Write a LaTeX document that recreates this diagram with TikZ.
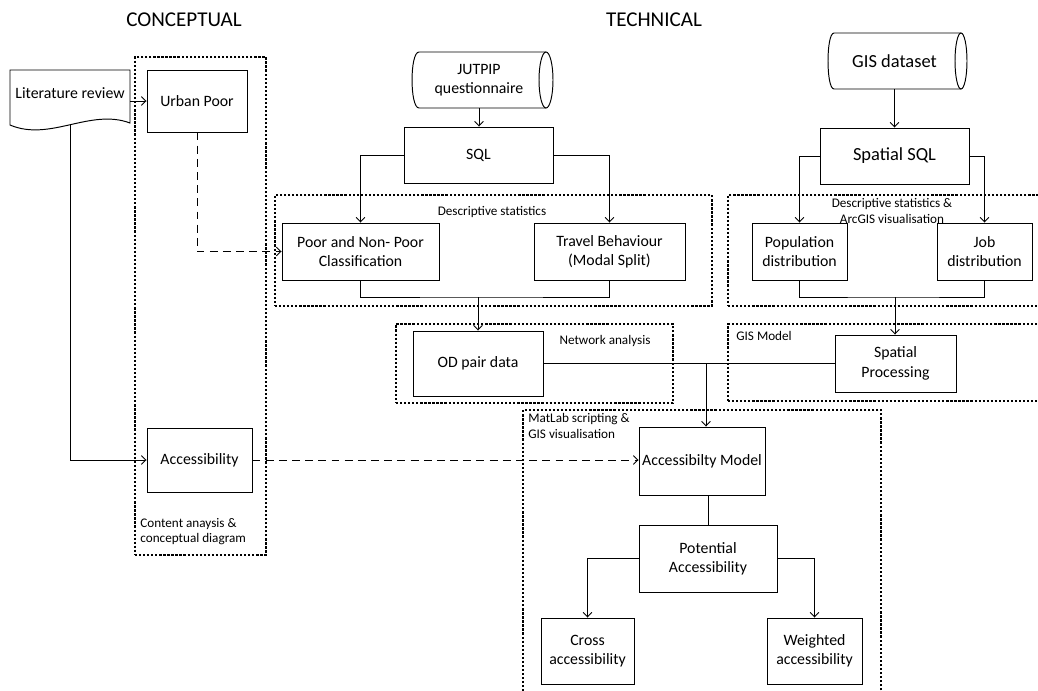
\documentclass[tikz,border=0pt]{standalone}
\usepackage{fontspec}
\setmainfont{Carlito}
\usetikzlibrary{fit,arrows.meta}
\newcommand\fbody{\fontsize{9}{11}\selectfont}
\newcommand\fbig{\fontsize{10.5}{12.5}\selectfont}
\newcommand\fsmall{\fontsize{7.5}{8.6}\selectfont}
\newcommand\fhead{\fontsize{12}{14}\selectfont}
\begin{document}
\begin{tikzpicture}[x=0.02cm,y=-0.02cm,
  sz/.style 2 args={minimum width=#1*0.02cm,minimum height=#2*0.02cm},
  box/.style={draw,line width=0.55pt,inner sep=0pt,align=center,font=\fbody},
  plain/.style={inner sep=0pt,align=center,font=\fbody},
  outline/.style={line width=0.55pt},
  link/.style={line width=0.5pt},
  arr/.style={link,-{Straight Barb[length=2.6pt,width=5pt,line width=0.5pt]}},
  dlink/.style={arr,dash pattern=on 4.5pt off 3pt},
  zone/.style={draw,line width=1.4pt,dash pattern=on 1.3pt off 1pt,inner sep=0pt},
  zonelabel/.style={inner sep=0pt,font=\fsmall},
  heading/.style={inner sep=0pt,font=\fhead}]
\useasboundingbox (0,0) rectangle (1038,690);
\clip (0,0) rectangle (1038,690);

% column headings
\node[heading] (hcon) at (184,20) {CONCEPTUAL};
\node[heading] (htec) at (654,20) {TECHNICAL};

% working zones (dotted frames)
\node[zone,fit={(135,57) (266,555)}] (zcon) {};
\node[zone,fit={(275,195) (712,306)}] (zdesc) {};
\node[zone,fit={(728,195) (1046,306)}] (zarc) {};
\node[zone,fit={(396,324) (673,403)}] (znet) {};
\node[zone,fit={(728,324) (1046,401)}] (zgis) {};
\node[zone,fit={(523,410) (881,700)}] (zmat) {};

\node[zonelabel,anchor=west,align=left] (lcon) at (140,532) {Content anaysis \&\\conceptual diagram};
\node[zonelabel] (ldesc) at (492,212) {Descriptive statistics};
\node[zonelabel,align=center] (larc) at (892,211) {Descriptive statistics \&\\ArcGIS visualisation};
\node[zonelabel] (lnet) at (605,341) {Network analysis};
\node[zonelabel,anchor=west] (lgis) at (736,336) {GIS Model};
\node[zonelabel,anchor=west,align=left] (lmat) at (528,426) {MatLab scripting \&\\GIS visualisation};

% document shape: literature review
\node[plain,sz={120}{46}] (lit) at (70,93) {Literature review};
\draw[outline] (10,70) -- (130,70) -- (130,123)
  .. controls (90,108) and (50,142) .. (10,125) -- cycle;
\coordinate (litfoot) at (70,125);

% conceptual boxes
\node[box,sz={100}{62}] (up) at (197,101) {Urban Poor};
\node[box,sz={105}{64}] (acc) at (199.5,460) {Accessibility};

% data stores
\node[plain,sz={134}{56}] (jut) at (479,80) {JUTPIP\\questionnaire};
\draw[outline] (546,52) -- (419,52) .. controls (409.7,52) and (409.7,108) .. (419,108) -- (546,108);
\draw[outline] (546,80) ellipse [x radius=7, y radius=28];

\node[plain,font=\fbig,sz={133}{56}] (gis) at (894.5,61) {GIS dataset};
\draw[outline] (961,33) -- (834,33) .. controls (826,33) and (826,89) .. (834,89) -- (961,89);
\draw[outline] (961,61) ellipse [x radius=6, y radius=28];

% technical boxes
\node[box,sz={149}{56}] (sql) at (478.5,155) {SQL};
\node[box,font=\fbig,sz={149}{56}] (ssql) at (894.5,156) {Spatial SQL};
\node[box,sz={157}{57}] (poor) at (360.5,251.5) {Poor and Non- Poor\\Classification};
\node[box,sz={151}{57}] (trav) at (609.5,251.5) {Travel Behaviour\\(Modal Split)};
\node[box,sz={95}{57}] (pop) at (799.5,251.5) {Population\\distribution};
\node[box,sz={95}{57}] (job) at (984.5,251.5) {Job\\distribution};
\node[box,sz={130}{65}] (od) at (478,363.5) {OD pair data};
\node[box,sz={121}{57}] (sp) at (895.5,363.5) {Spatial\\Processing};
\node[box,sz={126}{68}] (am) at (702,461) {Accessibilty Model};
\node[box,sz={138}{67}] (pa) at (708,558.5) {Potential\\Accessibility};
\node[box,sz={93}{66}] (cr) at (587.5,651) {Cross\\accessibility};
\node[box,sz={95}{66}] (wt) at (814.5,651) {Weighted\\accessibility};

% junction points
\coordinate (m1) at (478,297);
\coordinate (m2) at (895,297);
\coordinate (j) at (706,363.5);

% conceptual connectors
\draw[arr] (lit.east |- up.west) -- (up.west);
\draw[arr] (litfoot) |- (acc.west);
\draw[dlink] (up.south) |- (poor.west);
\draw[dlink] (acc.east) -- (acc.east -| am.west);

% survey branch
\draw[arr] (jut.south) -- (jut.south |- sql.north);
\draw[arr] (sql.west) -| (poor.north);
\draw[arr] (sql.east) -| (trav.north);
\draw[link] (poor.south) |- (m1) -| (trav.south);
\draw[arr] (m1) -- (m1 |- od.north);

% spatial branch
\draw[arr] (gis.south) -- (gis.south |- ssql.north);
\draw[arr] (ssql.west) -| (pop.north);
\draw[arr] (ssql.east) -| (job.north);
\draw[link] (pop.south) |- (m2) -| (job.south);
\draw[arr] (m2) -- (m2 |- sp.north);

% model
\draw[link] (od.east) -- (sp.west);
\draw[arr] (j) -- (j |- am.north);
\draw[link] (am.south -| pa.north) -- (pa.north);
\draw[arr] (pa.west) -| (cr.north);
\draw[arr] (pa.east) -| (wt.north);
\end{tikzpicture}
\end{document}
